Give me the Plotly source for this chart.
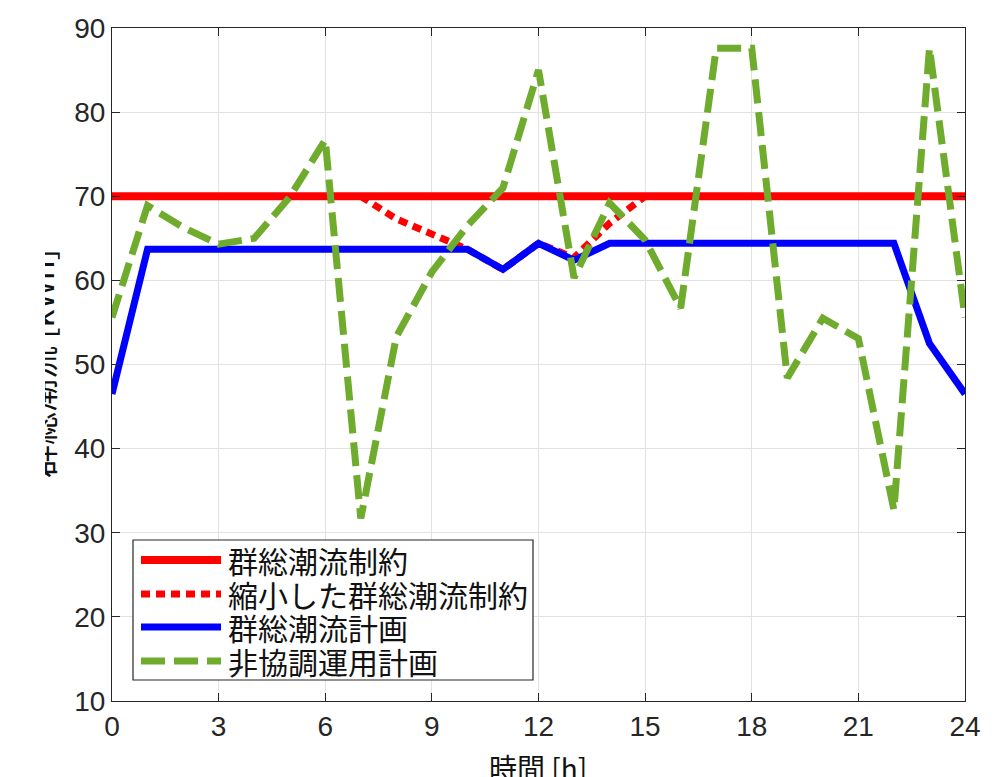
import plotly.graph_objects as go

# ---------------- data ----------------
hours = list(range(25))
constraint = [70, 70, 70, 70, 70, 70, 70, 70, 70, 70, 70, 70, 70,
              70, 70, 70, 70, 70, 70, 70, 70, 70, 70, 70, 70]
reduced_hours = [7, 8, 9, 10, 11, 12, 13, 14, 15]
reduced_constraint = [70, 67.3, 65.5, 63.7, 61.3, 64.4, 62.7, 66.8, 70]
plan = [46.5, 63.7, 63.7, 63.7, 63.7, 63.7, 63.7, 63.7, 63.7, 63.7, 63.7,
        61.3, 64.4, 62.4, 64.4, 64.4, 64.4, 64.4, 64.4, 64.4, 64.4, 64.4,
        64.4, 52.5, 46.5]
uncoord = [55.6, 68.9, 66.3, 64.3, 65.0, 69.9, 76.7, 31.7, 53.3, 61.0,
           66.5, 71.0, 85.0, 60.3, 69.2, 64.8, 56.7, 87.6, 87.6, 48.4,
           55.5, 53.1, 32.7, 87.6, 55.6]
series_names = ["群総潮流制約", "縮小した群総潮流制約", "群総潮流計画", "非協調運用計画"]
x_ticks = [0, 3, 6, 9, 12, 15, 18, 21, 24]
y_ticks = [10, 20, 30, 40, 50, 60, 70, 80, 90]
x_title = "時間 [h]"
y_title = "群総潮流 [kWh]"

# ---------------- style ----------------
W, H = 1007, 777
L, R, T, B = 112, 965, 28, 701
RED, BLUE, GREEN = "#ff0000", "#0000ff", "#6fab2d"
CJK = "Noto Sans CJK JP"
TICKFONT = "Liberation Sans, Arial, sans-serif"
AXC = "#262626"

styles = [
    dict(color=RED, width=8, dash="solid"),
    dict(color=RED, width=7, dash="9px,6px"),
    dict(color=BLUE, width=7, dash="solid"),
    dict(color=GREEN, width=7, dash="24px,9px"),
]


def px(xp):
    return (xp - L) / (R - L)


def py(yp):
    return (B - yp) / (B - T)


fig = go.Figure()
fig.add_trace(go.Scatter(x=hours, y=constraint, mode="lines", name=series_names[0],
                         line=styles[0], showlegend=False))
fig.add_trace(go.Scatter(x=reduced_hours, y=reduced_constraint, mode="lines",
                         name=series_names[1], line=styles[1], showlegend=False))
fig.add_trace(go.Scatter(x=hours, y=plan, mode="lines", name=series_names[2],
                         line=styles[2], showlegend=False))
fig.add_trace(go.Scatter(x=hours, y=uncoord, mode="lines", name=series_names[3],
                         line=styles[3], showlegend=False))

axis_common = dict(showline=True, linecolor=AXC, linewidth=1, mirror="ticks",
                   ticks="inside", ticklen=8, tickcolor=AXC, tickwidth=1,
                   showgrid=True, gridcolor="#e2e2e2", gridwidth=1, zeroline=False,
                   tickfont=dict(family=TICKFONT, size=28, color=AXC))
fig.update_xaxes(range=[0, 24], tickvals=x_ticks, ticktext=[str(v) for v in x_ticks],
                 **axis_common)
fig.update_yaxes(range=[10, 90], tickvals=y_ticks, ticktext=[str(v) for v in y_ticks],
                 **axis_common)

shapes = []
annotations = []
# custom legend (MATLAB style, long line samples)
shapes.append(dict(type="rect", xref="paper", yref="paper",
                   x0=px(133), x1=px(533), y0=py(680), y1=py(540),
                   line=dict(color=AXC, width=1.2), fillcolor="white", layer="above"))
leg_y = [560, 594, 627, 661]
for name, st, yy in zip(series_names, styles, leg_y):
    shapes.append(dict(type="line", xref="paper", yref="paper",
                       x0=px(141), x1=px(221), y0=py(yy), y1=py(yy),
                       line=dict(color=st["color"], width=st["width"], dash=st["dash"]),
                       layer="above"))
    annotations.append(dict(text=name, xref="paper", yref="paper", x=px(226), y=py(yy),
                            xanchor="left", yanchor="middle", showarrow=False,
                            font=dict(family=CJK, size=30, color="#111111")))

annotations.append(dict(text=x_title, xref="paper", yref="paper", x=px(538), y=py(745),
                        xanchor="center", yanchor="top", showarrow=False,
                        font=dict(family=CJK, size=28, color="#111111")))
annotations.append(dict(text=y_title, xref="paper", yref="paper", x=px(40), y=py(364),
                        xanchor="center", yanchor="middle", showarrow=False, textangle=-90,
                        font=dict(family=CJK, size=33, color="#111111")))

fig.update_layout(width=W, height=H, margin=dict(l=L, r=W - R, t=T, b=H - B),
                  paper_bgcolor="white", plot_bgcolor="white",
                  shapes=shapes, annotations=annotations, showlegend=False)

# the reference shows only the right-hand strip of the rotated y-axis title
post = """
var gd = document.getElementById('{plot_id}');
function clipYTitle(){
  var anns = gd.querySelectorAll('g.annotation');
  anns.forEach(function(a){
    if (a.textContent.indexOf('kWh') >= 0) {
      var svg = a.ownerSVGElement;
      var ns = 'http://www.w3.org/2000/svg';
      var cp = svg.querySelector('#ytitleclip');
      if (!cp) {
        var defs = document.createElementNS(ns, 'defs');
        cp = document.createElementNS(ns, 'clipPath');
        cp.setAttribute('id', 'ytitleclip');
        cp.setAttribute('clipPathUnits', 'userSpaceOnUse');
        var r = document.createElementNS(ns, 'rect');
        r.setAttribute('x', '45'); r.setAttribute('y', '0');
        r.setAttribute('width', '3000'); r.setAttribute('height', '3000');
        cp.appendChild(r); defs.appendChild(cp); svg.appendChild(defs);
      }
      a.setAttribute('clip-path', 'url(#ytitleclip)');
    }
  });
}
clipYTitle();
gd.on('plotly_afterplot', clipYTitle);
"""

fig.write_html("out.html", post_script=post)
